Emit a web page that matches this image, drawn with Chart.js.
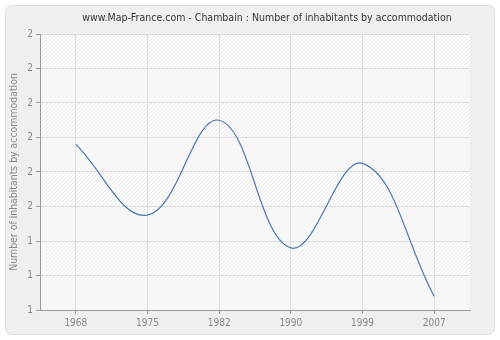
<!DOCTYPE html>
<html>
<head>
<meta charset="utf-8">
<script src="https://cdn.jsdelivr.net/npm/chart.js@4.4.0/dist/chart.umd.min.js"></script>
<style>
  html, body { margin: 0; padding: 0; background: #fff; }
  #wrap { width: 500px; height: 340px; }
</style>
</head>
<body>
<div id="wrap"><canvas id="chart" width="500" height="340"></canvas></div>
<script>
/* ── DATA ─────────────────────────────────────────────────── */
const years = ['1968', '1975', '1982', '1990', '1999', '2007'];
const inhabitantsPerHome = [1.68, 1.475, 1.75, 1.38, 1.625, 1.24];
const yTicks = [1.2, 1.3, 1.4, 1.5, 1.6, 1.7, 1.8, 1.9, 2.0];
const chartTitle = 'www.Map-France.com - Chambain : Number of inhabitants by accommodation';

const FONT = '"DejaVu Sans Condensed", "DejaVu Sans", sans-serif';

/* ── FRAME, TITLE + STRIPED PLOT BACKGROUND ───────────────── */
const framePlugin = {
  id: 'frame',
  beforeDraw(chart) {
    const { ctx, chartArea: a, scales } = chart;
    ctx.save();

    // rounded outer panel
    const x = 5.5, y = 5.5, w = 489, h = 329, r = 6;
    ctx.beginPath();
    ctx.moveTo(x + r, y);
    ctx.arcTo(x + w, y, x + w, y + h, r);
    ctx.arcTo(x + w, y + h, x, y + h, r);
    ctx.arcTo(x, y + h, x, y, r);
    ctx.arcTo(x, y, x + w, y, r);
    ctx.closePath();
    ctx.fillStyle = '#efefef';
    ctx.fill();
    ctx.strokeStyle = '#dedede';
    ctx.lineWidth = 1;
    ctx.stroke();

    // title
    ctx.fillStyle = '#333333';
    ctx.font = '10.5px ' + FONT;
    ctx.textAlign = 'center';
    ctx.textBaseline = 'middle';
    ctx.fillText(chartTitle, 267, 18.5);

    // alternating bands between y ticks
    const ys = scales.y;
    ctx.beginPath();
    ctx.rect(a.left, a.top, a.right - a.left, a.bottom - a.top);
    ctx.clip();
    ctx.fillStyle = '#ffffff';
    ctx.fillRect(a.left, a.top, a.right - a.left, a.bottom - a.top);

    for (let i = 0; i < yTicks.length - 1; i++) {
      const top = ys.getPixelForValue(yTicks[yTicks.length - 1 - i]);
      const bot = ys.getPixelForValue(yTicks[yTicks.length - 2 - i]);
      const hatched = i % 2 === 0;
      ctx.fillStyle = hatched ? '#fcfcfc' : '#f8f8f8';
      ctx.fillRect(a.left, top, a.right - a.left, bot - top);

      ctx.save();
      ctx.beginPath();
      ctx.rect(a.left, top, a.right - a.left, bot - top);
      ctx.clip();
      ctx.strokeStyle = hatched ? '#e9e9e9' : '#f1f1f1';
      ctx.lineWidth = 1;
      ctx.beginPath();
      for (let s = a.left - (bot - top); s < a.right + 10; s += 4) {
        ctx.moveTo(s, bot);
        ctx.lineTo(s + (bot - top), top);
      }
      ctx.stroke();
      ctx.restore();
    }
    ctx.restore();
  }
};

/* ── CHART ────────────────────────────────────────────────── */
new Chart(document.getElementById('chart'), {
  type: 'line',
  data: {
    labels: years,
    datasets: [{
      data: inhabitantsPerHome,
      borderColor: '#4f78b0',
      borderWidth: 1.2,
      pointRadius: 0,
      tension: 0.4,
      fill: false
    }]
  },
  options: {
    responsive: false,
    animation: false,
    layout: { padding: { left: 0, right: 30, top: 34, bottom: 0 } },
    plugins: {
      legend: { display: false },
      tooltip: { enabled: false },
      title: { display: false }
    },
    scales: {
      x: {
        offset: true,
        afterFit: s => { s.height = 30; },
        grid: {
          offset: false,
          color: '#dddddd',
          borderDash: [4, 3],
          tickLength: 4,
          tickColor: '#999999',
          tickBorderDash: []
        },
        border: { color: '#999999', width: 1 },
        ticks: {
          color: '#888888',
          padding: 3,
          maxRotation: 0,
          font: { family: FONT, size: 10 }
        }
      },
      y: {
        min: 1.2,
        max: 2.0,
        afterFit: s => { s.width = 40; },
        afterBuildTicks: s => { s.ticks = yTicks.map(v => ({ value: v })); },
        grid: {
          color: '#dddddd',
          borderDash: [4, 3],
          tickLength: 4,
          tickColor: '#999999',
          tickBorderDash: []
        },
        border: { color: '#999999', width: 1 },
        ticks: {
          color: '#888888',
          padding: 3,
          font: { family: FONT, size: 10 },
          callback: v => Math.round(v)
        },
        title: {
          display: true,
          text: 'Number of inhabitants by accommodation',
          color: '#888888',
          font: { family: FONT, size: 10.4 },
          padding: { top: 8, bottom: 0 }
        }
      }
    }
  },
  plugins: [framePlugin]
});
</script>
</body>
</html>
